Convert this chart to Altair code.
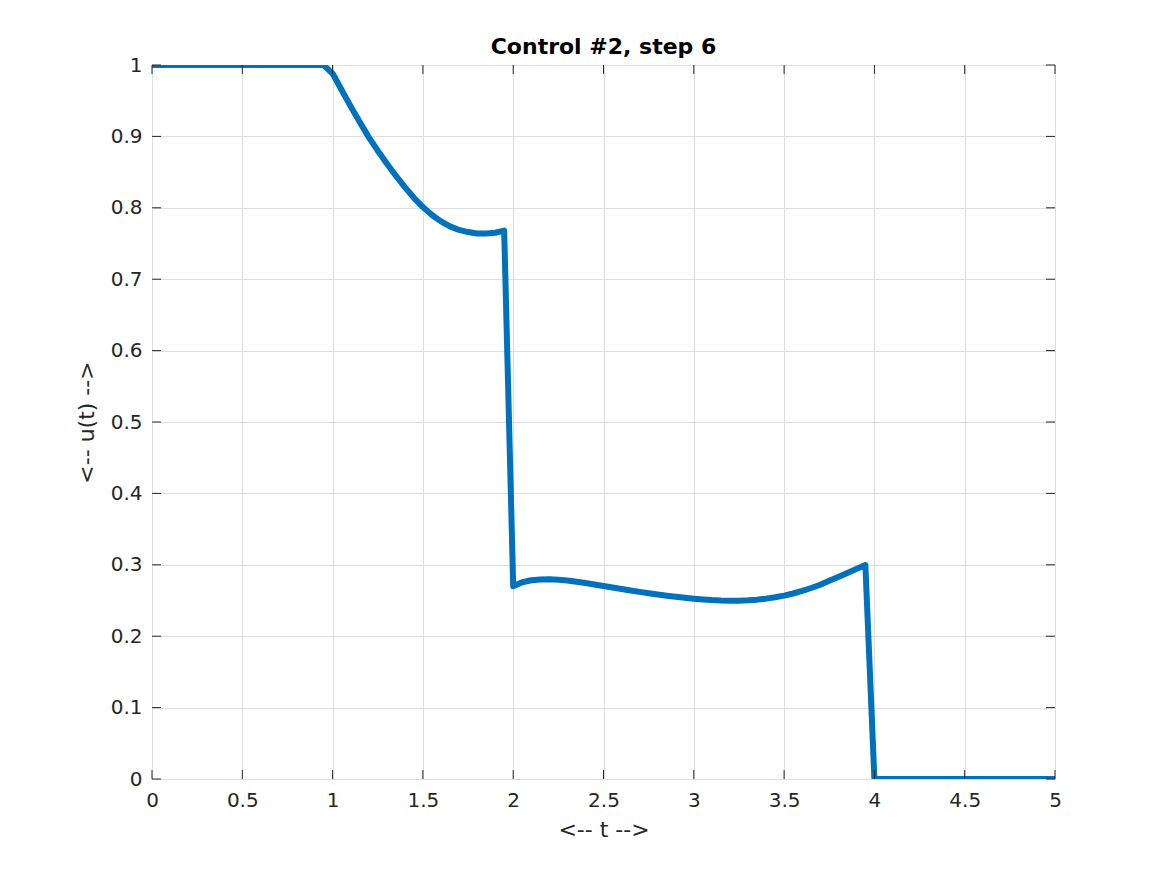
import altair as alt
import pandas as pd

# Control u(t)
t_vals = [0.0, 0.95, 1.0, 1.05, 1.1, 1.15, 1.2, 1.25, 1.3, 1.35, 1.4, 1.45, 1.5,
          1.55, 1.6, 1.65, 1.7, 1.75, 1.8, 1.85, 1.9, 1.95,
          2.0, 2.05, 2.1, 2.15, 2.2, 2.25, 2.3, 2.35, 2.4, 2.45, 2.5,
          2.55, 2.6, 2.65, 2.7, 2.75, 2.8, 2.85, 2.9, 2.95, 3.0,
          3.05, 3.1, 3.15, 3.2, 3.25, 3.3, 3.35, 3.4, 3.45, 3.5,
          3.55, 3.6, 3.65, 3.7, 3.75, 3.8, 3.85, 3.9, 3.95, 4.0, 5.0]
u_vals = [1.0, 1.0, 0.988, 0.965, 0.942, 0.920, 0.899, 0.880, 0.862, 0.845, 0.829, 0.814, 0.801,
          0.790, 0.781, 0.774, 0.769, 0.766, 0.764, 0.764, 0.765, 0.768,
          0.270, 0.2755, 0.2783, 0.2795, 0.2797, 0.2791, 0.2779, 0.2763, 0.2745, 0.2725, 0.2704,
          0.2683, 0.2662, 0.2641, 0.2621, 0.2602, 0.2584, 0.2567, 0.2552, 0.2538, 0.2526,
          0.2515, 0.2506, 0.2500, 0.2497, 0.2498, 0.2503, 0.2512, 0.2526, 0.2545, 0.2568,
          0.2598, 0.2635, 0.2675, 0.2720, 0.2775, 0.2830, 0.2885, 0.2940, 0.2997, 0.0, 0.0]

x_ticks = [0, 0.5, 1, 1.5, 2, 2.5, 3, 3.5, 4, 4.5, 5]
y_ticks = [0, 0.1, 0.2, 0.3, 0.4, 0.5, 0.6, 0.7, 0.8, 0.9, 1]

W, H = 903, 714
FONT = "DejaVu Sans"
TXT = "#262626"
TICK_LEN = 9

df = pd.DataFrame({"t": t_vals, "u": u_vals, "order": list(range(len(t_vals)))})
xt = pd.DataFrame({"v": x_ticks})
yt = pd.DataFrame({"v": y_ticks})

xscale = alt.Scale(domain=[0, 5], nice=False, zero=False)
yscale = alt.Scale(domain=[0, 1], nice=False, zero=False)

line = alt.Chart(df).mark_line(color="#0072BD", strokeWidth=6, strokeJoin="round", clip=True).encode(
    x=alt.X("t:Q", scale=xscale,
            axis=alt.Axis(values=x_ticks, format="~g", title="<-- t -->", grid=True,
                          gridColor="#dedede", gridWidth=1, tickSize=0, domain=False,
                          labelFlush=False,
                          labelFontSize=20, labelFont=FONT, labelColor=TXT, labelPadding=11,
                          titleFontSize=22, titleFont=FONT, titleColor=TXT, titleFontWeight="normal",
                          titlePadding=9)),
    y=alt.Y("u:Q", scale=yscale,
            axis=alt.Axis(values=y_ticks, format="~g", title="<-- u(t) -->", grid=True,
                          gridColor="#dedede", gridWidth=1, tickSize=0, domain=False,
                          labelFlush=False,
                          labelFontSize=20, labelFont=FONT, labelColor=TXT, labelPadding=10,
                          titleFontSize=22, titleFont=FONT, titleColor=TXT, titleFontWeight="normal",
                          titlePadding=12)),
    order="order:Q",
)

tick_color = TXT
xb = alt.Chart(xt).mark_rule(color=tick_color, strokeWidth=1).encode(
    x=alt.X("v:Q", scale=xscale), y=alt.value(H), y2=alt.value(H - TICK_LEN))
xtop = alt.Chart(xt).mark_rule(color=tick_color, strokeWidth=1).encode(
    x=alt.X("v:Q", scale=xscale), y=alt.value(0), y2=alt.value(TICK_LEN))
yl = alt.Chart(yt).mark_rule(color=tick_color, strokeWidth=1).encode(
    y=alt.Y("v:Q", scale=yscale), x=alt.value(0), x2=alt.value(TICK_LEN))
yr = alt.Chart(yt).mark_rule(color=tick_color, strokeWidth=1).encode(
    y=alt.Y("v:Q", scale=yscale), x=alt.value(W), x2=alt.value(W - TICK_LEN))

chart = alt.layer(line, xb, xtop, yl, yr).properties(
    width=W, height=H,
    title=alt.TitleParams("Control #2, step 6", font=FONT, fontSize=22, fontWeight="bold",
                          color="#000000", offset=2, dy=23, anchor="middle", baseline="alphabetic"),
    autosize=alt.AutoSizeParams(type="none"),
    padding={"left": 144, "top": 57, "right": 104, "bottom": 96},
).configure_view(stroke=TXT, strokeWidth=1).configure(background="white")

chart.save("out.html", embed_options={"renderer": "svg", "actions": False})
